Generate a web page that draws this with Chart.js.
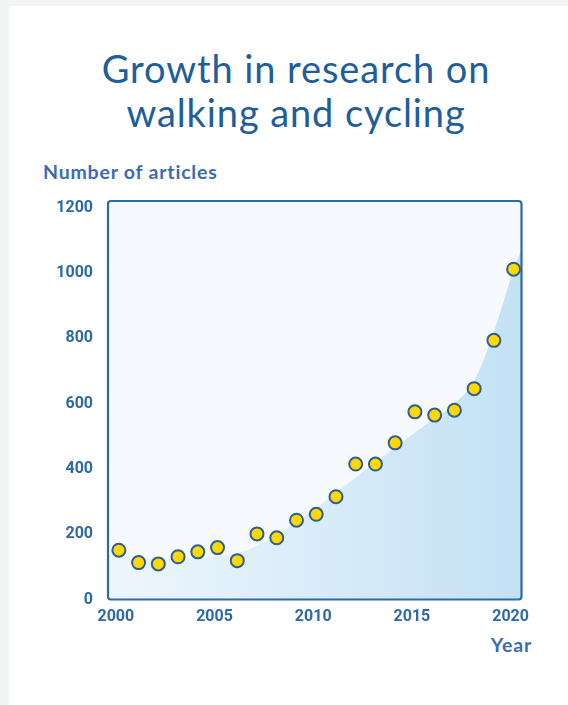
<!DOCTYPE html>
<html>
<head>
<meta charset="utf-8">
<script src="https://cdn.jsdelivr.net/npm/chart.js@4"></script>
<style>
  html, body { margin: 0; padding: 0; }
  body { width: 568px; height: 705px; background: #f3f5f5; position: relative; overflow: hidden; font-family: "Lato", "Noto Sans", sans-serif; }
  #card { position: absolute; left: 9px; top: 6px; width: 559px; height: 699px; background: #ffffff; }
  #title { position: absolute; left: 24px; width: 544px; top: 46px; text-align: center; color: #1d5e9b; font-size: 38px; line-height: 44px; font-weight: 400; letter-spacing: 0.9px; }
  #ylab { position: absolute; left: 43px; top: 161px; color: #3a6cb4; font-size: 19.5px; font-weight: 700; line-height: 22px; letter-spacing: 0.8px; }
  #xlab { position: absolute; right: 36px; top: 634px; color: #3a6cb4; font-size: 19.5px; font-weight: 700; line-height: 22px; letter-spacing: 0.8px; }
  #wrap { position: absolute; left: 0; top: 0; width: 568px; height: 705px; }
</style>
</head>
<body>
<div id="card"></div>
<div id="title">Growth in research on<br>walking and cycling</div>
<div id="ylab">Number of articles</div>
<div id="xlab">Year</div>
<div id="wrap"><canvas id="c" width="568" height="705"></canvas></div>
<script>
// Observed data: number of articles per year
const years = [2000, 2001, 2002, 2003, 2004, 2005, 2006, 2007, 2008, 2009, 2010,
               2011, 2012, 2013, 2014, 2015, 2016, 2017, 2018, 2019, 2020];
const articles = [151, 113, 109, 131, 146, 159, 119, 201, 189, 243, 261,
                  315, 415, 415, 480, 575, 565, 580, 646, 794, 1012];

// Smooth trend (shaded area)
const trendYears = [1999.45, 2000, 2001, 2002, 2003, 2004, 2005, 2006, 2007, 2008, 2009, 2010,
                    2011, 2012, 2013, 2014, 2015, 2016, 2017, 2018, 2019, 2020, 2020.4];
const trendValues = [140, 137, 130, 126, 125, 127, 132, 142, 165, 198, 238, 280,
                     326, 374, 420, 466, 512, 555, 600, 670, 820, 1010, 1075];

const xTicks = [2000, 2005, 2010, 2015, 2020];
const yTicks = [0, 200, 400, 600, 800, 1000, 1200];

const pointData = years.map((y, i) => ({ x: y, y: articles[i] }));
const trendData = trendYears.map((y, i) => ({ x: y, y: trendValues[i] }));

const axisBlue = '#2c69a6';

const areaPlugin = {
  id: 'areaPlugin',
  beforeDatasetsDraw(chart) {
    const a = chart.chartArea, ctx = chart.ctx;
    ctx.save();
    ctx.fillStyle = '#f6fafe';
    ctx.fillRect(a.left, a.top, a.right - a.left, a.bottom - a.top);
    ctx.restore();
  },
  afterDatasetDraw(chart, args) {
    if (args.index !== 1) return;
    const a = chart.chartArea, ctx = chart.ctx;
    ctx.save();
    ctx.strokeStyle = axisBlue;
    ctx.lineWidth = 2.2;
    ctx.beginPath();
    if (ctx.roundRect) ctx.roundRect(a.left, a.top, a.right - a.left, a.bottom - a.top, 3);
    else ctx.rect(a.left, a.top, a.right - a.left, a.bottom - a.top);
    ctx.stroke();
    ctx.restore();
  }
};

new Chart(document.getElementById('c'), {
  type: 'scatter',
  data: {
    datasets: [
      {
        label: 'Articles',
        data: pointData,
        backgroundColor: '#ffd800',
        borderColor: '#2d5f92',
        borderWidth: 2,
        pointRadius: 6.5,
        pointHoverRadius: 6.5,
        order: 0
      },
      {
        type: 'line',
        label: 'Trend',
        data: trendData,
        showLine: true,
        borderWidth: 0,
        borderColor: 'rgba(0,0,0,0)',
        pointRadius: 0,
        cubicInterpolationMode: 'monotone',
        fill: 'origin',
        backgroundColor: (ctx) => {
          const chart = ctx.chart;
          const a = chart.chartArea;
          if (!a) return '#dbeefa';
          const g = chart.ctx.createLinearGradient(a.left, 0, a.right, 0);
          g.addColorStop(0, '#eef6fd');
          g.addColorStop(0.5, '#d9ecf9');
          g.addColorStop(1, '#c3e1f5');
          return g;
        },
        order: 1
      }
    ]
  },
  options: {
    responsive: false,
    animation: false,
    events: [],
    layout: { padding: { left: 0, right: 46.5, top: 201, bottom: 65.5 } },
    plugins: {
      legend: { display: false },
      tooltip: { enabled: false },
      title: { display: false }
    },
    scales: {
      x: {
        type: 'linear',
        min: 1999.45,
        max: 2020.4,
        afterBuildTicks: (s) => { s.ticks = xTicks.map(v => ({ value: v })); },
        afterFit: (s) => { s.height = 40; },
        grid: { display: false, drawTicks: false },
        border: { display: false },
        ticks: {
          padding: 8,
          labelOffset: -3,
          color: axisBlue,
          font: { family: 'Roboto', size: 16, weight: 'bold' },
          callback: (v) => String(v)
        }
      },
      y: {
        type: 'linear',
        min: 0,
        max: 1221,
        afterBuildTicks: (s) => { s.ticks = yTicks.map(v => ({ value: v })); },
        afterFit: (s) => { s.width = 108; },
        grid: { display: false, drawTicks: false },
        border: { display: false },
        ticks: {
          padding: 15,
          color: axisBlue,
          font: { family: 'Roboto', size: 16, weight: 'bold' },
          callback: (v) => String(v)
        }
      }
    }
  },
  plugins: [areaPlugin]
});
</script>
</body>
</html>
